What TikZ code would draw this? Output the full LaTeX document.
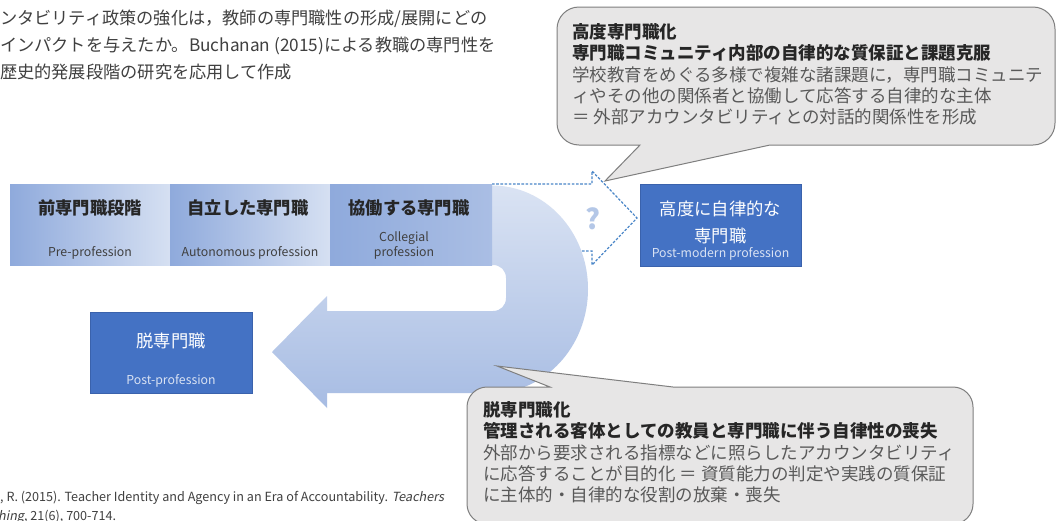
\documentclass[tikz,border=0pt]{standalone}
\usepackage{fontspec}
\setmainfont{Noto Sans CJK JP}
\newfontfamily\slfont[FakeSlant=0.2]{Noto Sans CJK JP}
\definecolor{cBarD}{HTML}{8FAADC}
\definecolor{cBarL}{HTML}{D6E0F2}
\definecolor{cBarR}{HTML}{AABEE4}
\definecolor{cUtop}{HTML}{DAE3F3}
\definecolor{cUbot}{HTML}{A7BCE3}
\definecolor{cBlue}{HTML}{4472C4}
\definecolor{cBlueEdge}{HTML}{3A62AC}
\definecolor{cDash}{HTML}{4A86C8}
\definecolor{cQ}{HTML}{B4C7E7}
\definecolor{cCallF}{HTML}{E7E6E6}
\definecolor{cCallD}{HTML}{7F7F7F}
\definecolor{cTxt}{HTML}{404040}
\definecolor{cDark}{HTML}{262626}
\definecolor{cGray}{HTML}{595959}
\definecolor{cSub}{HTML}{D9E2F3}
\newcommand\fsTop{\fontsize{17.2pt}{20pt}\selectfont}
\newcommand\fsCall{\fontsize{17.5pt}{20pt}\selectfont}
\newcommand\fsBox{\fontsize{17.3pt}{20pt}\selectfont}
\newcommand\fsEn{\fontsize{12.3pt}{14pt}\selectfont}
\newcommand\fsQ{\fontsize{28pt}{30pt}\selectfont}
\newcommand\fsCite{\fontsize{12.6pt}{14pt}\selectfont}
\begin{document}
\begin{tikzpicture}[x=1pt,y=-1pt,
  lt/.style={inner sep=0pt, anchor=base west},
  ct/.style={inner sep=0pt, anchor=base},
  stagebox/.style={inner sep=0pt, anchor=north west, minimum width=161pt, minimum height=81pt, draw=none},
  bluebox/.style={inner sep=0pt, anchor=north west, fill=cBlue, draw=cBlueEdge, line width=0.8pt},
  callshape/.style={fill=cCallF, draw=cCallD, line width=1pt},
  dasharrow/.style={draw=cDash, line width=1.2pt, dash pattern=on 2.6pt off 1.6pt},
  topfont/.style={font=\fsTop, text=cTxt},
  boldcall/.style={font=\fsCall\bfseries, text=cDark},
  regcall/.style={font=\fsCall, text=cGray},
  stagejp/.style={font=\fsBox\bfseries, text=cDark},
  stageen/.style={font=\fsEn, text=cTxt},
  bluejp/.style={font=\fsBox, text=white},
  blueen/.style={font=\fsEn, text=cSub}]
\useasboundingbox (0,0) rectangle (1056,520);
\clip (0,0) rectangle (1056,520);
\fill[white] (0,0) rectangle (1056,520);

% top-left text
\node[lt, topfont] (tl1) at (0,24.5) {ンタビリティ政策の強化は，教師の専門職性の形成/展開にどの};
\node[lt, topfont] (tl2) at (0,51.5) {インパクトを与えたか。Buchanan (2015)による教職の専門性を};
\node[lt, topfont] (tl3) at (0,78.5) {歴史的発展段階の研究を応用して作成};

% dashed outline arrow (behind U shape)
\coordinate (da0) at (492,184);
\coordinate (da1) at (592,184);
\coordinate (da2) at (592,171);
\coordinate (datip) at (637,218);
\coordinate (da3) at (592,265);
\coordinate (da4) at (592,251);
\coordinate (da5) at (492,251);
\draw[dasharrow] (da0) -- (da1) -- (da2) -- (datip) -- (da3) -- (da4) -- (da5);

% U-turn arrow
\path[top color=cUtop, bottom color=cUbot]
  (492,185.5) .. controls (545,185.5) and (588,231.6) .. (588,289)
  .. controls (588,346.4) and (545,393) .. (492,393)
  -- (327,393) -- (327,408) -- (272,352) -- (327,296) -- (327,311)
  -- (493,311) .. controls (500.5,311) and (506,305.5) .. (506,298)
  -- (506,278) .. controls (506,270.5) and (500.5,265) .. (493,265)
  -- (490,265) -- (490,185.5) -- cycle;

% stage boxes
\node[stagebox, left color=cBarD, right color=cBarL] (s1) at (10,184) {};
\node[stagebox, left color=cBarD, right color=cBarL] (s2) at (170,184) {};
\node[stagebox, minimum width=162pt, left color=cBarD, right color=cBarR] (s3) at (330,184) {};
\node[ct, stagejp] (s1j) at (90,214.5) {前専門職段階};
\node[ct, stageen] (s1e) at (90,256.5) {Pre-profession};
\node[ct, stagejp] (s2j) at (248,214.5) {自立した専門職};
\node[ct, stageen] (s2e) at (250,256.5) {Autonomous profession};
\node[ct, stagejp] (s3j) at (409,214.5) {協働する専門職};
\node[ct, stageen] (s3e1) at (404,241.5) {Collegial};
\node[ct, stageen] (s3e2) at (404,256.5) {profession};

% question mark
\node[ct, font=\fsQ\bfseries, text=cQ] (q) at (593,229) {?};

% blue boxes
\node[bluebox, minimum width=161pt, minimum height=82pt] (pm) at (640,184) {};
\node[ct, bluejp] (pmj1) at (720.5,215.6) {高度に自律的な};
\node[ct, bluejp] (pmj2) at (720.5,242.6) {専門職};
\node[ct, blueen] (pme) at (720.5,257) {Post-modern profession};
\node[bluebox, minimum width=162pt, minimum height=81pt] (pp) at (90,312) {};
\node[ct, bluejp] (ppj) at (171,347.6) {脱専門職};
\node[ct, blueen] (ppe) at (171,384) {Post-profession};

% top callout
\path[callshape] (579,7) -- (1033,7) .. controls (1045.15,7) and (1055,16.85) .. (1055,29)
  -- (1055,123) .. controls (1055,135.15) and (1045.15,145) .. (1033,145)
  -- (770,145) -- (605,181) -- (640,145) -- (579,145)
  .. controls (566.85,145) and (557,135.15) .. (557,123)
  -- (557,29) .. controls (557,16.85) and (566.85,7) .. (579,7) -- cycle;
\node[lt, boldcall] (c1a) at (572,38.6) {高度専門職化};
\node[lt, boldcall] (c1b) at (572,59.8) {専門職コミュニティ内部の自律的な質保証と課題克服};
\node[lt, regcall] (c1c) at (572,81) {学校教育をめぐる多様で複雑な諸課題に，専門職コミュニテ};
\node[lt, regcall] (c1d) at (572,102.2) {ィやその他の関係者と協働して応答する自律的な主体};
\node[lt, regcall] (c1e) at (572,123.4) {＝ 外部アカウンタビリティとの対話的関係性を形成};

% bottom callout
\path[callshape] (487,387) -- (550,387) -- (497,366) -- (673,387) -- (953,387)
  .. controls (964.05,387) and (973,395.95) .. (973,407)
  -- (973,504) .. controls (973,515.05) and (964.05,524) .. (953,524)
  -- (487,524) .. controls (475.95,524) and (467,515.05) .. (467,504)
  -- (467,407) .. controls (467,395.95) and (475.95,387) .. (487,387) -- cycle;
\node[lt, boldcall] (c2a) at (483,416.6) {脱専門職化};
\node[lt, boldcall] (c2b) at (483,437.8) {管理される客体としての教員と専門職に伴う自律性の喪失};
\node[lt, regcall] (c2c) at (483,459.4) {外部から要求される指標などに照らしたアカウンタビリティ};
\node[lt, regcall] (c2d) at (483,480.6) {に応答することが目的化 ＝ 資質能力の判定や実践の質保証};
\node[lt, regcall] (c2e) at (483,501.8) {に主体的・自律的な役割の放棄・喪失};

% citation
\node[lt, font=\fsCite, text=cTxt] (cite1) at (0,501) {, R. (2015). Teacher Identity and Agency in an Era of Accountability. {\slfont Teachers}};
\node[lt, font=\fsCite, text=cTxt] (cite2) at (-2,520) {{\slfont hing}, 21(6), 700-714.};
\end{tikzpicture}
\end{document}
